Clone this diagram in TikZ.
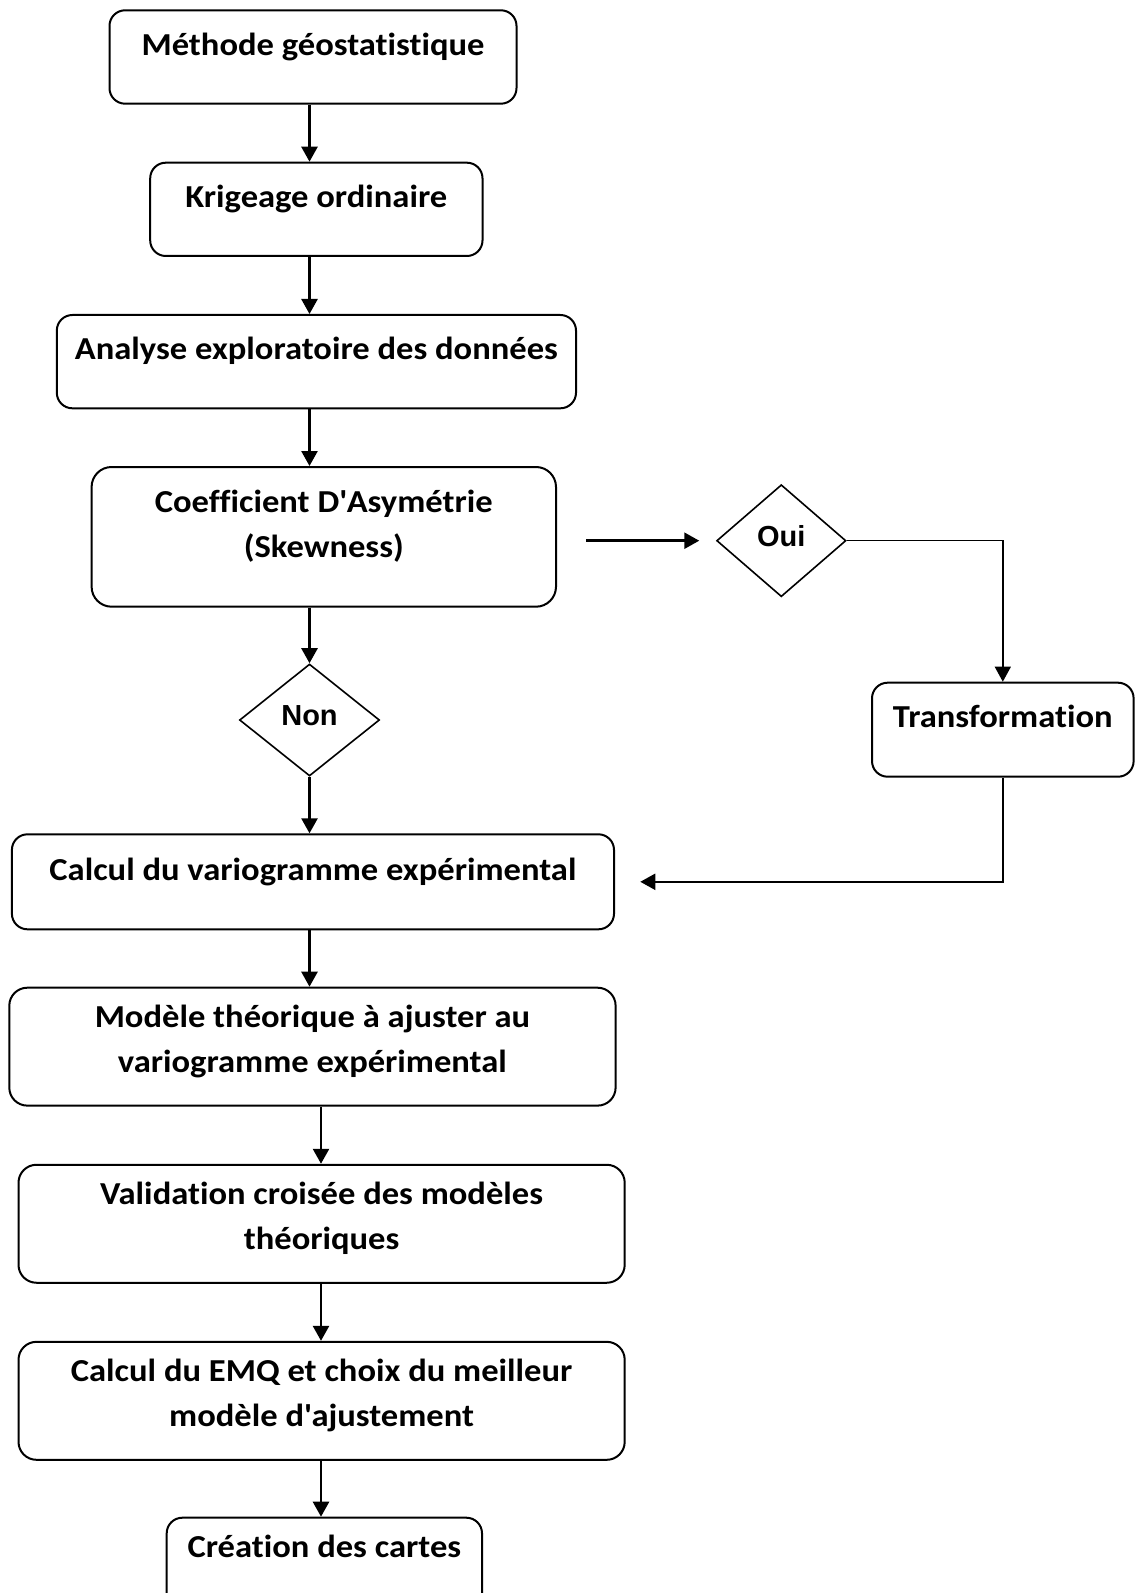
\documentclass[tikz,border=0pt]{standalone}
\usepackage{fontspec}
\setmainfont{Carlito}[FakeStretch=1.08,Ligatures={TeX,NoCommon}]
\newfontfamily\arialfont{Liberation Sans}
\usetikzlibrary{shapes.geometric,arrows.meta,calc}
\newcommand{\bxt}[4]{\parbox[c][#2][t]{#1}{\centering\rule{0pt}{#3}#4}}
\begin{document}
\begin{tikzpicture}[x=0.5pt,y=-0.5pt,
  box/.style={draw, line width=1pt, inner sep=0pt, anchor=north west,
    font=\fontsize{16}{22.5}\selectfont\bfseries},
  dia/.style={draw, diamond, aspect=1, inner sep=0pt, line width=0.8pt,
    font=\arialfont\fontsize{14.5}{17}\selectfont\bfseries, text depth=4.4pt},
  tip/.style={-{Triangle[length=7.5pt,width=8pt]}},
  arr/.style={tip, line width=1.3pt},
  branch/.style={tip, line width=0.7pt},
  back/.style={tip, line width=1.1pt}]
\useasboundingbox (0,0) rectangle (1136,1593);
\node[box, rounded corners=7.8pt] (B1) at (108.5,9.3)
  {\bxt{203.5pt}{46.7pt}{22.85pt}{Méthode géostatistique}};
\node[box, rounded corners=7.8pt] (B2) at (149.2,161.7)
  {\bxt{166.15pt}{46.65pt}{22.65pt}{Krigeage ordinaire}};
\node[box, rounded corners=7.8pt] (B3) at (55.8,314)
  {\bxt{259.6pt}{46.65pt}{22.5pt}{Analyse exploratoire des données}};
\node[box, rounded corners=10pt] (B4) at (90.6,466)
  {\bxt{232.2pt}{69.85pt}{22.85pt}{Coefficient D\textquotesingle Asymétrie\\(Skewness)}};
\node[box, rounded corners=7.8pt] (T) at (871,681.7)
  {\bxt{130.8pt}{47pt}{22.5pt}{Transformation}};
\node[box, rounded corners=7.8pt] (B5) at (10.9,833.3)
  {\bxt{301.05pt}{47.5pt}{23pt}{Calcul du variogramme expérimental}};
\node[box, rounded corners=9pt] (B6) at (8.3,986.7)
  {\bxt{303.15pt}{58.95pt}{20pt}{Modèle théorique à ajuster au\\variogramme expérimental}};
\node[box, rounded corners=9pt] (B7) at (17.5,1163.75)
  {\bxt{303.1pt}{59pt}{19.75pt}{Validation croisée des modèles\\théoriques}};
\node[box, rounded corners=9pt] (B8) at (17.5,1340.8)
  {\bxt{303.1pt}{59pt}{19.8pt}{Calcul du EMQ et choix du meilleur\\modèle d\textquotesingle ajustement}};
\node[box, rounded corners=7.8pt] (B9) at (165.7,1516.7)
  {\bxt{157.65pt}{47pt}{19.65pt}{Création des cartes}};
\node[dia, minimum width=70pt, minimum height=56pt] (non) at (309.5,720) {Non};
\node[dia, minimum width=64.65pt, minimum height=56pt] (oui) at (781.3,540.7) {Oui};
\coordinate (s1) at (309.5,0);
\coordinate (s2) at (321,0);
\draw[arr] (B1.south -| s1) -- (B2.north -| s1);
\draw[arr] (B2.south -| s1) -- (B3.north -| s1);
\draw[arr] (B3.south -| s1) -- (B4.north -| s1);
\draw[arr] (B4.south -| non) -- (non.north);
\draw[arr] (non.south) -- (B5.north -| non);
\draw[arr] (B5.south -| s1) -- (B6.north -| s1);
\draw[arr] (B6.south -| s2) -- (B7.north -| s2);
\draw[arr] (B7.south -| s2) -- (B8.north -| s2);
\draw[arr] (B8.south -| s2) -- (B9.north -| s2);
\draw[arr] ($(B4.east |- oui.west)+(14.5pt,0)$) -- ($(oui.west)+(-8.3pt,0)$);
\draw[branch] (oui.east) -| (T.north);
\draw[back] (T.south) |- ($(B5.east)+(12.65pt,0)$);
\end{tikzpicture}
\end{document}
